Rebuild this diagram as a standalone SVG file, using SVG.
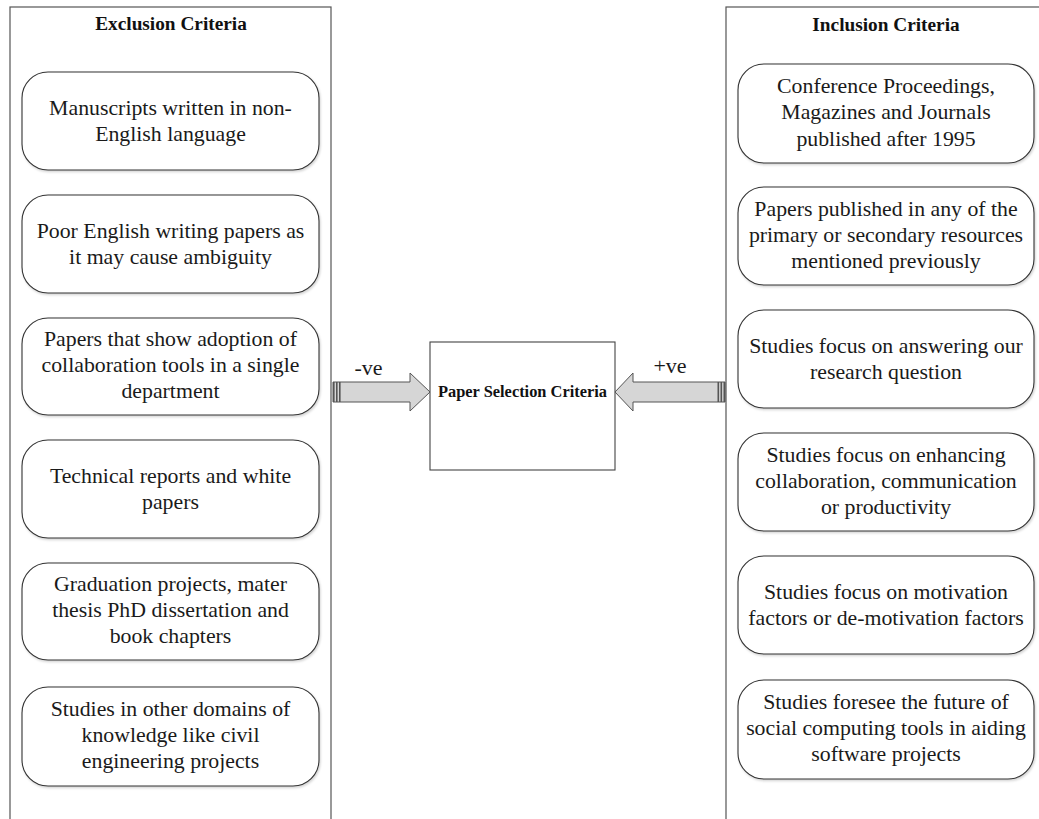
<svg xmlns="http://www.w3.org/2000/svg" width="1039" height="819" viewBox="0 0 1039 819">
<style>
.panel{fill:#fff;stroke:#555;stroke-width:1.2}
.box{fill:#fff;stroke:#333;stroke-width:1.1}
.t{font-family:"Liberation Serif","Times New Roman",serif;font-size:21.8px;fill:#1a1a1a;text-anchor:middle}
.h{font-family:"Liberation Serif","Times New Roman",serif;font-size:19.3px;font-weight:bold;fill:#111;text-anchor:middle}
.c{font-family:"Liberation Serif","Times New Roman",serif;font-size:16.4px;font-weight:bold;fill:#111;text-anchor:middle}
.lab{font-family:"Liberation Serif","Times New Roman",serif;font-size:22px;fill:#1a1a1a;text-anchor:middle}
.arrow{fill:#d6d6d6;stroke:#555;stroke-width:1}
.bar{fill:#555}
</style>
<defs>
<filter id="sh" x="-5%" y="-5%" width="110%" height="115%">
<feDropShadow dx="1" dy="1.5" stdDeviation="1" flood-color="#000" flood-opacity="0.18"/>
</filter>
</defs>
<rect width="1039" height="819" fill="#fff"/>

<g id="exclusion-panel">
<rect class="panel" x="10" y="7" width="321" height="830"/>
<text class="h" x="171" y="30">Exclusion Criteria</text>
</g>
<g id="inclusion-panel">
<rect class="panel" x="726" y="7" width="320" height="830"/>
<text class="h" x="886" y="31">Inclusion Criteria</text>
</g>

<g id="ex1"><rect class="box" filter="url(#sh)" x="22" y="72" width="297" height="98" rx="26"/>
<text class="t" x="170.5" y="115">Manuscripts written in non-</text><text class="t" x="170.5" y="141">English language</text></g>
<g id="ex2"><rect class="box" filter="url(#sh)" x="22" y="195" width="297" height="98" rx="26"/>
<text class="t" x="170.5" y="238">Poor English writing papers as</text><text class="t" x="170.5" y="264">it may cause ambiguity</text></g>
<g id="ex3"><rect class="box" filter="url(#sh)" x="22" y="318" width="297" height="97" rx="26"/>
<text class="t" x="170.5" y="346">Papers that show adoption of</text><text class="t" x="170.5" y="372">collaboration tools in a single</text><text class="t" x="170.5" y="398">department</text></g>
<g id="ex4"><rect class="box" filter="url(#sh)" x="22" y="440" width="297" height="98" rx="26"/>
<text class="t" x="170.5" y="483">Technical reports and white</text><text class="t" x="170.5" y="509">papers</text></g>
<g id="ex5"><rect class="box" filter="url(#sh)" x="22" y="563" width="297" height="97" rx="26"/>
<text class="t" x="170.5" y="591">Graduation projects, mater</text><text class="t" x="170.5" y="617">thesis PhD dissertation and</text><text class="t" x="170.5" y="643">book chapters</text></g>
<g id="ex6"><rect class="box" filter="url(#sh)" x="22" y="687" width="297" height="99" rx="26"/>
<text class="t" x="170.5" y="716">Studies in other domains of</text><text class="t" x="170.5" y="742">knowledge like civil</text><text class="t" x="170.5" y="768">engineering projects</text></g>

<g id="in1"><rect class="box" filter="url(#sh)" x="738" y="64" width="296" height="99" rx="26"/>
<text class="t" x="886" y="93">Conference Proceedings,</text><text class="t" x="886" y="119">Magazines and Journals</text><text class="t" x="886" y="146">published after 1995</text></g>
<g id="in2"><rect class="box" filter="url(#sh)" x="738" y="187" width="296" height="98" rx="26"/>
<text class="t" x="886" y="216">Papers published in any of the</text><text class="t" x="886" y="242">primary or secondary resources</text><text class="t" x="886" y="268">mentioned previously</text></g>
<g id="in3"><rect class="box" filter="url(#sh)" x="738" y="310" width="296" height="98" rx="26"/>
<text class="t" x="886" y="353">Studies focus on answering our</text><text class="t" x="886" y="379">research question</text></g>
<g id="in4"><rect class="box" filter="url(#sh)" x="738" y="433" width="296" height="98" rx="26"/>
<text class="t" x="886" y="462">Studies focus on enhancing</text><text class="t" x="886" y="488">collaboration, communication</text><text class="t" x="886" y="514">or productivity</text></g>
<g id="in5"><rect class="box" filter="url(#sh)" x="738" y="556" width="296" height="98" rx="26"/>
<text class="t" x="886" y="599">Studies focus on motivation</text><text class="t" x="886" y="625">factors or de-motivation factors</text></g>
<g id="in6"><rect class="box" filter="url(#sh)" x="738" y="680" width="296" height="99" rx="26"/>
<text class="t" x="886" y="709">Studies foresee the future of</text><text class="t" x="886" y="735">social computing tools in aiding</text><text class="t" x="886" y="761">software projects</text></g>

<g id="center">
<rect x="430" y="342" width="185" height="128" fill="#fff" stroke="#444" stroke-width="1.1"/>
<text class="c" x="522.5" y="397">Paper Selection Criteria</text>
</g>

<g id="connectors">
<path class="arrow" d="M333,382 L410,382 L410,373 L430,392 L410,411 L410,402 L333,402 Z"/>
<rect class="bar" x="333" y="382" width="1.6" height="20"/>
<rect class="bar" x="336" y="382" width="1.6" height="20"/>
<rect class="bar" x="339" y="382" width="1.6" height="20"/>
<path class="arrow" d="M725,382 L633,382 L633,373 L615,392 L633,411 L633,402 L725,402 Z"/>
<rect class="bar" x="717.5" y="382" width="1.6" height="20"/>
<rect class="bar" x="720.5" y="382" width="1.6" height="20"/>
<rect class="bar" x="723.5" y="382" width="1.6" height="20"/>
<text class="lab" x="368.5" y="375">-ve</text>
<text class="lab" x="670" y="373">+ve</text>
</g>
</svg>
